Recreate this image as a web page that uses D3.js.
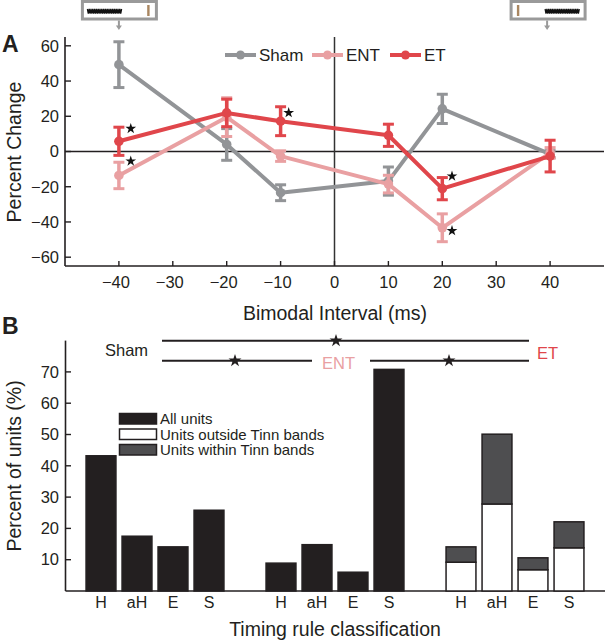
<!DOCTYPE html>
<html>
<head>
<meta charset="utf-8">
<script src="https://cdn.jsdelivr.net/npm/d3@7"></script>
<style>
  html, body { margin: 0; padding: 0; background: #fff; }
  svg { display: block; }
  text { font-family: "Liberation Sans", Arial, Helvetica, sans-serif; fill: #231f20; }
</style>
</head>
<body>
<svg id="chart" width="605" height="640"></svg>
<script>
// ---------------- Data: Panel A ----------------
const intervals = [-40, -20, -10, 10, 20, 40];
const xTicksA = [-40, -30, -20, -10, 0, 10, 20, 30, 40];
const yTicksA = [-60, -40, -20, 0, 20, 40, 60];
const seriesNames = ["Sham", "ENT", "ET"];
const shamMean = [49.3, 4.0, -23.4, -16.8, 24.2, -1.5];
const shamErr  = [13.0, 9.0, 4.5, 8.0, 8.3, 2.0];
const entMean  = [-13.6, 19.5, -2.6, -18.5, -43.3, -0.8];
const entErr   = [7.5, 11.0, 3.0, 5.0, 7.9, 3.0];
const etMean   = [5.8, 21.9, 17.2, 9.2, -21.1, -2.6];
const etErr    = [8.0, 7.8, 8.2, 6.3, 6.3, 9.0];
// significance stars (interval, percent change)
const starsA = [[-37.8, 13], [-37.8, -5.5], [-8.5, 22], [21.8, -14], [21.8, -45]];

// ---------------- Data: Panel B ----------------
const groups = ["Sham", "ENT", "ET"];
const classes = ["H", "aH", "E", "S"];
const yTicksB = [10, 20, 30, 40, 50, 60, 70];
const shamAll = [43.2, 17.5, 14.1, 25.8];
const entAll  = [8.9, 14.8, 6.0, 70.8];
const etOutside = [9.2, 27.8, 6.8, 13.8];
const etWithin  = [4.9, 22.3, 3.8, 8.3];
const legendB = ["All units", "Units outside Tinn bands", "Units within Tinn bands"];

// ---------------- Styles ----------------
const colors = { Sham: "#929497", ENT: "#e9a0a2", ET: "#e0464b" };
const darkFill = "#231f20", withinFill = "#4e4e50", ink = "#231f20";

const svg = d3.select("#chart");

// ================= PANEL A =================
const xA = d3.scaleLinear().domain([-50, 50]).range([65, 604]);
const yA = d3.scaleLinear().domain([-65, 65]).range([266, 37]);
const gA = svg.append("g");

function icon(cx, leftBar) {
  const bw = 74, bx = cx - 37;
  const g = gA.append("g");
  g.append("rect").attr("x", bx).attr("y", 1.5).attr("width", bw).attr("height", 17.5)
    .attr("fill", "#fff").attr("stroke", "#9a9a9a").attr("stroke-width", 3);
  const zx0 = leftBar ? bx + 5 : bx + 34, zx1 = zx0 + 35;
  let p = "M" + zx0 + ",9";
  let up = false;
  for (let x = zx0 + 0.9; x <= zx1; x += 0.9) { p += "L" + x.toFixed(2) + "," + (up ? 9 : 13.5); up = !up; }
  g.append("path").attr("d", p).attr("fill", "none").attr("stroke", "#111").attr("stroke-width", 1.3);
  const tx = leftBar ? bx + 66 : bx + 7;
  g.append("rect").attr("x", tx - 1.2).attr("y", 5).attr("width", 2.4).attr("height", 11).attr("fill", "#a98660");
}
icon(xA(-40) + 0.5, true);
icon(xA(40) - 2, false);
function arrow(x) {
  gA.append("line").attr("x1", x).attr("x2", x).attr("y1", 20.5).attr("y2", 27)
    .attr("stroke", "#9a9a9a").attr("stroke-width", 2);
  gA.append("path").attr("d", `M${x - 3},25.5L${x + 3},25.5L${x},30Z`).attr("fill", "#9a9a9a");
}
arrow(xA(-40));
arrow(xA(40) - 3);

gA.append("line").attr("x1", xA(-50)).attr("x2", xA(-50)).attr("y1", yA(65)).attr("y2", yA(-65))
  .attr("stroke", ink).attr("stroke-width", 1.6);
gA.append("line").attr("x1", xA(-50)).attr("x2", xA(50)).attr("y1", yA(-65)).attr("y2", yA(-65))
  .attr("stroke", ink).attr("stroke-width", 1.6);
gA.append("line").attr("x1", xA(-50)).attr("x2", xA(50)).attr("y1", yA(0)).attr("y2", yA(0))
  .attr("stroke", ink).attr("stroke-width", 1.5);
gA.append("line").attr("x1", xA(0)).attr("x2", xA(0)).attr("y1", yA(65)).attr("y2", yA(-65))
  .attr("stroke", "#333").attr("stroke-width", 1.5);

yTicksA.forEach(v => {
  gA.append("line").attr("x1", xA(-50)).attr("x2", xA(-50) + 6).attr("y1", yA(v)).attr("y2", yA(v))
    .attr("stroke", ink).attr("stroke-width", 1.4);
  gA.append("text").attr("x", xA(-50) - 6).attr("y", yA(v)).attr("dy", "0.35em")
    .attr("text-anchor", "end").attr("font-size", 16.5).text(v < 0 ? "\u2212" + Math.abs(v) : v);
});
xTicksA.forEach(v => {
  gA.append("line").attr("x1", xA(v)).attr("x2", xA(v)).attr("y1", yA(-65)).attr("y2", yA(-65) - 5)
    .attr("stroke", ink).attr("stroke-width", 1.4);
  gA.append("text").attr("x", xA(v) - (v < 0 ? 3 : 0)).attr("y", 288)
    .attr("text-anchor", "middle").attr("font-size", 16.5).text(v < 0 ? "\u2212" + Math.abs(v) : v);
});

gA.append("text").attr("x", 335).attr("y", 320).attr("text-anchor", "middle")
  .attr("font-size", 19.5).text("Bimodal Interval (ms)");
gA.append("text").attr("transform", "translate(21,152) rotate(-90)").attr("text-anchor", "middle")
  .attr("font-size", 19.5).text("Percent Change");
gA.append("text").attr("x", 2).attr("y", 52).attr("font-size", 23).attr("font-weight", "bold").text("A");

const seriesData = {
  Sham: intervals.map((x, i) => ({ x, m: shamMean[i], e: shamErr[i] })),
  ENT: intervals.map((x, i) => ({ x, m: entMean[i], e: entErr[i] })),
  ET: intervals.map((x, i) => ({ x, m: etMean[i], e: etErr[i] }))
};
const lineGen = d3.line().x(d => xA(d.x)).y(d => yA(d.m));
seriesNames.forEach(name => {
  const c = colors[name], data = seriesData[name];
  const g = gA.append("g");
  g.append("path").datum(data).attr("d", lineGen).attr("fill", "none")
    .attr("stroke", c).attr("stroke-width", 4).attr("stroke-linejoin", "round");
  data.forEach(d => {
    g.append("line").attr("x1", xA(d.x)).attr("x2", xA(d.x)).attr("y1", yA(d.m - d.e)).attr("y2", yA(d.m + d.e))
      .attr("stroke", c).attr("stroke-width", 3.5);
    [d.m - d.e, d.m + d.e].forEach(v => {
      g.append("line").attr("x1", xA(d.x) - 5.5).attr("x2", xA(d.x) + 5.5).attr("y1", yA(v)).attr("y2", yA(v))
        .attr("stroke", c).attr("stroke-width", 3);
    });
    g.append("circle").attr("cx", xA(d.x)).attr("cy", yA(d.m)).attr("r", 4.8).attr("fill", c);
  });
});

const starA = d3.symbol(d3.symbolStar).size(36);
starsA.forEach(s => {
  gA.append("path").attr("d", starA()).attr("transform", `translate(${xA(s[0])},${yA(s[1])})`).attr("fill", "#111");
});

const legX = [225, 312, 390];
seriesNames.forEach((name, i) => {
  const c = colors[name], x0 = legX[i], y0 = 55;
  gA.append("line").attr("x1", x0).attr("x2", x0 + 31).attr("y1", y0).attr("y2", y0)
    .attr("stroke", c).attr("stroke-width", 4);
  gA.append("circle").attr("cx", x0 + 15.5).attr("cy", y0).attr("r", 4.5).attr("fill", c);
  gA.append("text").attr("x", x0 + 34).attr("y", y0).attr("dy", "0.36em").attr("font-size", 17).text(name);
});

// ================= PANEL B =================
const xGroup = d3.scaleBand().domain(groups).range([65, 605]).paddingInner(0.2).paddingOuter(0.1);
const xClass = d3.scaleBand().domain(classes).range([0, xGroup.bandwidth()]).paddingInner(0.17).paddingOuter(0.085);
const yB = d3.scaleLinear().domain([0, 80]).range([591, 340.6]);
const gB = svg.append("g");

gB.append("line").attr("x1", 65.5).attr("x2", 65.5).attr("y1", yB(80)).attr("y2", yB(0))
  .attr("stroke", ink).attr("stroke-width", 1.6);
gB.append("line").attr("x1", 65.5).attr("x2", 605).attr("y1", yB(0)).attr("y2", yB(0))
  .attr("stroke", ink).attr("stroke-width", 1.6);
yTicksB.forEach(v => {
  gB.append("line").attr("x1", 65.5).attr("x2", 71).attr("y1", yB(v)).attr("y2", yB(v))
    .attr("stroke", ink).attr("stroke-width", 1.4);
  gB.append("text").attr("x", 59).attr("y", yB(v)).attr("dy", "0.35em").attr("text-anchor", "end")
    .attr("font-size", 16.5).text(v);
});

const barData = [];
groups.forEach(g => {
  classes.forEach((c, ci) => {
    const x = xGroup(g) + xClass(c);
    if (g === "Sham") barData.push({ x, y0: 0, y1: shamAll[ci], fill: darkFill });
    else if (g === "ENT") barData.push({ x, y0: 0, y1: entAll[ci], fill: darkFill });
    else {
      barData.push({ x, y0: 0, y1: etOutside[ci], fill: "#fff" });
      barData.push({ x, y0: etOutside[ci], y1: etOutside[ci] + etWithin[ci], fill: withinFill });
    }
  });
});
gB.selectAll("rect.bar").data(barData).enter().append("rect").attr("class", "bar")
  .attr("x", d => d.x).attr("width", xClass.bandwidth())
  .attr("y", d => yB(d.y1)).attr("height", d => yB(d.y0) - yB(d.y1))
  .attr("fill", d => d.fill).attr("stroke", ink).attr("stroke-width", 1.5);

groups.forEach(g => {
  classes.forEach(c => {
    gB.append("text").attr("x", xGroup(g) + xClass(c) + xClass.bandwidth() / 2).attr("y", 608)
      .attr("text-anchor", "middle").attr("font-size", 16).text(c);
  });
});
gB.append("text").attr("x", 335).attr("y", 636).attr("text-anchor", "middle")
  .attr("font-size", 19.5).text("Timing rule classification");
gB.append("text").attr("transform", "translate(21,466) rotate(-90)").attr("text-anchor", "middle")
  .attr("font-size", 19.5).text("Percent of units (%)");
gB.append("text").attr("x", 2).attr("y", 334).attr("font-size", 23).attr("font-weight", "bold").text("B");

const legFills = [darkFill, "#fff", withinFill];
legendB.forEach((t, i) => {
  const y0 = 413.5 + i * 15.5;
  gB.append("rect").attr("x", 119.5).attr("y", y0).attr("width", 37).attr("height", 10.5)
    .attr("fill", legFills[i]).attr("stroke", ink).attr("stroke-width", 1.5);
  gB.append("text").attr("x", 160).attr("y", y0 + 5.5).attr("dy", "0.34em").attr("font-size", 15).text(t);
});

const starB = d3.symbol(d3.symbolStar).size(52);
function bracket(x1, x2, y, sx) {
  gB.append("line").attr("x1", x1).attr("x2", x2).attr("y1", y).attr("y2", y)
    .attr("stroke", ink).attr("stroke-width", 2);
  gB.append("path").attr("d", starB()).attr("transform", `translate(${sx},${y})`).attr("fill", ink);
}
bracket(162, 529, 340.7, 336);
bracket(162, 312, 360.7, 235);
bracket(370, 529, 360.7, 449);
gB.append("text").attr("x", 105).attr("y", 350).attr("dy", "0.36em").attr("font-size", 16.5).text("Sham");
gB.append("text").attr("x", 322).attr("y", 363).attr("dy", "0.36em").attr("font-size", 16.5)
  .style("fill", colors.ENT).text("ENT");
gB.append("text").attr("x", 537).attr("y", 353).attr("dy", "0.36em").attr("font-size", 16.5)
  .style("fill", colors.ET).text("ET");
</script>
</body>
</html>
